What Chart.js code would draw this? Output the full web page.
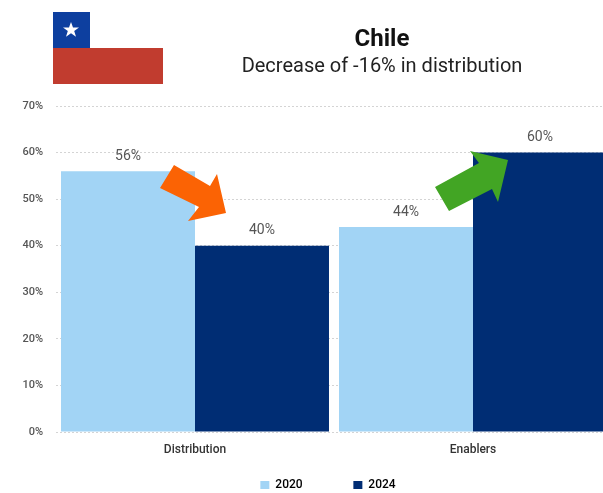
<!DOCTYPE html>
<html><head><meta charset="utf-8">
<style>
html,body{margin:0;padding:0;background:#fff;width:603px;height:493px;overflow:hidden}
#wrap{position:relative;width:603px;height:493px;overflow:hidden;font-family:Roboto,sans-serif}
canvas{position:absolute;left:0;top:0}
#t1,#t2{position:absolute;left:182px;width:400px;text-align:center;white-space:nowrap}
#t1{top:23px;font-size:24px;font-weight:700;color:#111;line-height:30px}
#t2{top:53px;font-size:20px;color:#222;line-height:24px}
svg{position:absolute;left:0;top:0}
</style></head><body>
<div id="wrap">
<canvas id="c" width="612" height="501" style="width:612px;height:501px"></canvas>
<svg width="603" height="493" viewBox="0 0 603 493">
<rect x="53" y="48" width="110" height="36" fill="#c13c2f"/>
<rect x="53" y="12" width="37" height="36" fill="#0d3f9f"/>
<polygon points="71,22 73,27.5 79,27.5 74.2,31 76,36.8 71,33.2 66,36.8 67.8,31 63,27.5 69,27.5" fill="#fff"/>
<polygon points="174,165 210,186 217,174 226,213 188,221 199,207 160,188" fill="#fb6304"/>
<polygon points="435,187 449,211 492,189 498,202 508,160 470,151 479,163" fill="#42a524"/>
</svg>
<div id="t1">Chile</div>
<div id="t2">Decrease of -16% in distribution</div>
</div>
<script src="https://cdn.jsdelivr.net/npm/chart.js@4"></script>
<script>
const categories = ["Distribution", "Enablers"];
const series2020 = [56, 44];
const series2024 = [40, 60];
const seriesNames = ["2020", "2024"];
const yTicks = [0, 10, 20, 30, 40, 50, 60, 70];

const barLabels = {
  id: "barLabels",
  afterLayout(chart) {
    chart.legend.left += 22;
    chart.legend.right += 22;
  },
  afterDatasetsDraw(chart) {
    const ctx = chart.ctx;
    ctx.save();
    ctx.font = "14px Roboto";
    ctx.fillStyle = "#555";
    ctx.textAlign = "center";
    ctx.textBaseline = "middle";
    chart.data.datasets.forEach((ds, i) => {
      chart.getDatasetMeta(i).data.forEach((bar, j) => {
        ctx.fillText(ds.data[j] + "%", bar.x, bar.y - 15);
      });
    });
    ctx.restore();
  }
};

new Chart(document.getElementById("c"), {
  type: "bar",
  data: {
    labels: categories,
    datasets: [
      { label: seriesNames[0], data: series2020, backgroundColor: "#a2d4f5" },
      { label: seriesNames[1], data: series2024, backgroundColor: "#002d74" }
    ]
  },
  options: {
    responsive: false,
    animation: false,
    devicePixelRatio: 1,
    layout: { padding: { top: 106, right: 0, left: 0, bottom: 0 } },
    datasets: { bar: { categoryPercentage: 0.964, barPercentage: 1 } },
    plugins: {
      title: { display: false },
      tooltip: { enabled: false },
      legend: {
        position: "bottom",
        labels: {
          boxWidth: 9, boxHeight: 8, padding: 6,
          color: "#222",
          font: { family: "Roboto", size: 12, weight: "500" },
          generateLabels(chart) {
            return chart.data.datasets.map((ds, i) => ({
              text: ds.label + (i === 0 ? "\u00a0".repeat(15) : ""),
              fillStyle: ds.backgroundColor,
              strokeStyle: ds.backgroundColor,
              lineWidth: 0,
              datasetIndex: i
            }));
          }
        }
      }
    },
    scales: {
      x: {
        grid: { display: false },
        border: { display: false },
        afterFit(s) { s.height = 41; },
        ticks: { color: "#333", padding: 3, maxRotation: 0, font: { family: "Roboto", size: 12, weight: "500" } }
      },
      y: {
        min: 0, max: 70,
        afterFit(s) { s.width = 56; },
        afterBuildTicks(s) { s.ticks = yTicks.map(v => ({ value: v })); },
        grid: { color: "#d4d4d4", tickLength: 0, lineWidth: 1 },
        border: { display: false, dash: [2, 2] },
        ticks: { color: "#555", padding: 13, font: { family: "Roboto", size: 11, weight: "500" }, callback: v => v + "%" }
      }
    }
  },
  plugins: [barLabels]
});
</script>
</body></html>
